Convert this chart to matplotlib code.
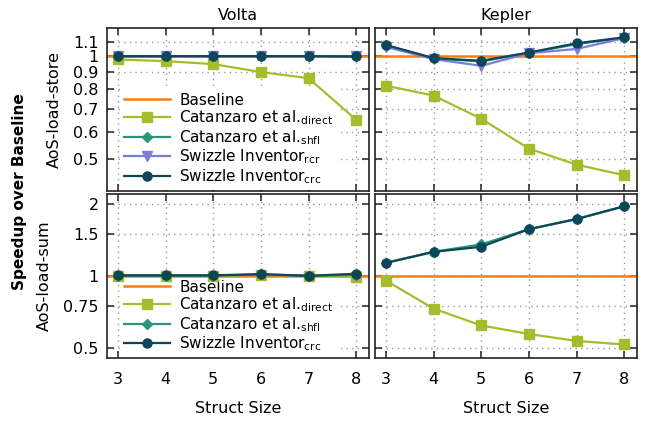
import matplotlib

matplotlib.use("Agg")
import matplotlib.pyplot as plt
from matplotlib.ticker import FixedLocator, FixedFormatter, NullLocator

# struct sizes on x
struct_size = [3, 4, 5, 6, 7, 8]
baseline = 1.0

# AoS-load-store
volta_store_direct = [0.978, 0.967, 0.948, 0.898, 0.862, 0.650]
volta_store_shfl = [1.0, 1.0, 1.0, 1.0, 1.0, 0.998]
volta_store_rcr = [1.0, 1.0, 1.0, 1.0, 1.0, 0.998]
volta_store_crc = [1.0, 1.0, 1.0, 1.0, 1.0, 0.998]

kepler_store_direct = [0.819, 0.766, 0.655, 0.535, 0.480, 0.447]
kepler_store_shfl = [1.075, 0.985, 0.965, 1.022, 1.085, 1.133]
kepler_store_rcr = [1.065, 0.980, 0.937, 1.020, 1.050, 1.130]
kepler_store_crc = [1.079, 0.987, 0.969, 1.025, 1.091, 1.136]

# AoS-load-sum
volta_sum_direct = [1.0, 1.0, 1.0, 1.01, 1.0, 0.99]
volta_sum_shfl = [1.0, 1.0, 1.0, 1.015, 1.0, 1.01]
volta_sum_crc = [1.005, 1.005, 1.005, 1.016, 1.0, 1.02]

kepler_sum_direct = [0.955, 0.729, 0.620, 0.571, 0.534, 0.516]
kepler_sum_shfl = [1.135, 1.26, 1.354, 1.567, 1.728, 1.955]
kepler_sum_crc = [1.132, 1.26, 1.323, 1.567, 1.728, 1.955]

store_ticks = [0.5, 0.6, 0.7, 0.8, 0.9, 1, 1.1]
store_labels = ["0.5", "0.6", "0.7", "0.8", "0.9", "1", "1.1"]
sum_ticks = [0.5, 0.75, 1, 1.5, 2]
sum_labels = ["0.5", "0.75", "1", "1.5", "2"]

C_BASE = "#fb7d10"
C_DIRECT = "#a5bd2c"
C_SHFL = "#2a957a"
C_RCR = "#7b7ed4"
C_CRC = "#0c4659"

plt.rcParams["font.family"] = "DejaVu Sans"
plt.rcParams["font.size"] = 11.5
plt.rcParams["mathtext.default"] = "regular"

fig = plt.figure(figsize=(6.46, 4.21), dpi=100)
W, H = 646.0, 421.0


def make_ax(x0, x1, y0, y1):
    return fig.add_axes([x0 / W, 1 - y1 / H, (x1 - x0) / W, (y1 - y0) / H])


ax_vs = make_ax(107, 369, 28, 190.5)
ax_ks = make_ax(375, 637, 28, 190.5)
ax_vl = make_ax(107, 369, 194, 358)
ax_kl = make_ax(375, 637, 194, 358)


def style(ax, ticks, labels, ylim, show_y, show_x):
    ax.set_yscale("log")
    ax.set_ylim(*ylim)
    ax.set_xlim(2.77, 8.27)
    ax.yaxis.set_major_locator(FixedLocator(ticks))
    ax.yaxis.set_minor_locator(NullLocator())
    ax.set_xticks(struct_size)
    if show_y:
        ax.yaxis.set_major_formatter(FixedFormatter(labels))
    else:
        ax.set_yticklabels([])
    if not show_x:
        ax.set_xticklabels([])
    ax.tick_params(direction="in", top=True, right=True, length=5,
                   width=1.2, color="#333333")
    ax.tick_params(axis="x", pad=10)
    ax.tick_params(axis="y", pad=6)
    ax.set_axisbelow(True)
    ax.grid(True, linestyle=(0, (1, 3)), color="#999999", linewidth=1)
    for s in ax.spines.values():
        s.set_linewidth(1.2)
        s.set_color("#222222")


kw = dict(linewidth=1.6, markersize=6.5, zorder=3)


def draw(ax, direct, shfl, rcr, crc):
    ax.axhline(baseline, color=C_BASE, linewidth=1.8, label="Baseline", zorder=2)
    ax.plot(struct_size, direct, color=C_DIRECT, marker="s",
            label=r"Catanzaro et al.$_{direct}$", **kw)
    ax.plot(struct_size, shfl, color=C_SHFL, marker="D", markersize=5.5,
            linewidth=1.6, zorder=3, label=r"Catanzaro et al.$_{shfl}$")
    if rcr is not None:
        ax.plot(struct_size, rcr, color=C_RCR, marker="v",
                label=r"Swizzle Inventor$_{rcr}$", **kw)
    ax.plot(struct_size, crc, color=C_CRC, marker="o",
            label=r"Swizzle Inventor$_{crc}$", **kw)


draw(ax_vs, volta_store_direct, volta_store_shfl, volta_store_rcr, volta_store_crc)
draw(ax_ks, kepler_store_direct, kepler_store_shfl, kepler_store_rcr, kepler_store_crc)
draw(ax_vl, volta_sum_direct, volta_sum_shfl, None, volta_sum_crc)
draw(ax_kl, kepler_sum_direct, kepler_sum_shfl, None, kepler_sum_crc)

style(ax_vs, store_ticks, store_labels, (0.403, 1.21), True, False)
style(ax_ks, store_ticks, store_labels, (0.403, 1.21), False, False)
style(ax_vl, sum_ticks, sum_labels, (0.453, 2.2), True, True)
style(ax_kl, sum_ticks, sum_labels, (0.453, 2.2), False, True)

for ax in (ax_vs, ax_vl):
    leg = ax.legend(loc="lower left", bbox_to_anchor=(0.02, -0.045),
                    frameon=True, framealpha=1, edgecolor="none",
                    fancybox=False, handlelength=3, handletextpad=0.6,
                    labelspacing=0.05, borderpad=0.3, fontsize=11)
    leg.set_zorder(1)

ax_vs.set_title("Volta", fontsize=11.5, pad=6)
ax_ks.set_title("Kepler", fontsize=11.5, pad=6)
ax_vs.set_ylabel("AoS-load-store", labelpad=8)
ax_vl.set_ylabel("AoS-load-sum", labelpad=8)
ax_vl.set_xlabel("Struct Size", labelpad=10)
ax_kl.set_xlabel("Struct Size", labelpad=10)
fig.text(20 / W, 1 - 192 / H, "Speedup over Baseline", rotation=90,
         ha="center", va="center", fontsize=11, fontweight="bold")

fig.savefig("out.png", dpi=100)
